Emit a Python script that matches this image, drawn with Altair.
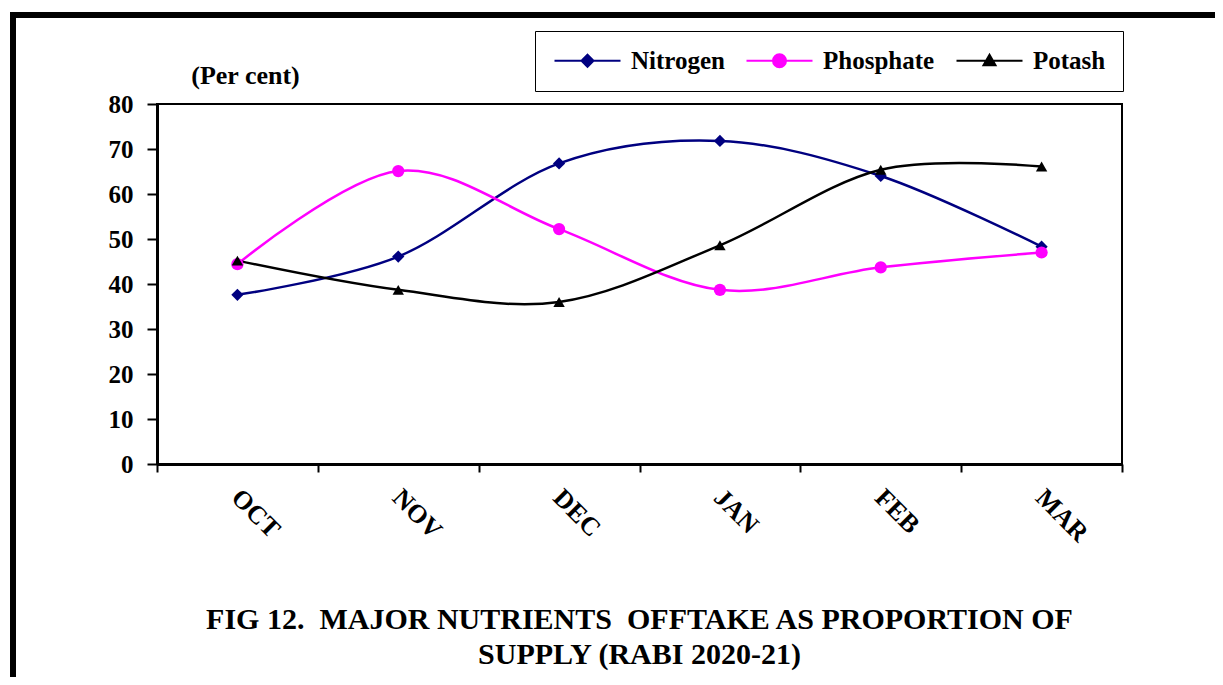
import altair as alt
import pandas as pd

months = ["OCT", "NOV", "DEC", "JAN", "FEB", "MAR"]
nitrogen = [37.6, 46.1, 66.8, 71.8, 64.0, 48.3]
phosphate = [44.4, 65.1, 52.2, 38.7, 43.7, 47.0]
potash = [45.2, 38.7, 36.0, 48.6, 65.4, 66.1]
series = ["Nitrogen", "Phosphate", "Potash"]
colors = ["#000080", "#FF00FF", "#000000"]
shapes = ["diamond", "circle", "triangle-up"]
sizes = [150, 150, 130]
y_ticks = [0, 10, 20, 30, 40, 50, 60, 70, 80]
title_lines = [
    "FIG 12.\u00a0 MAJOR NUTRIENTS\u00a0 OFFTAKE AS PROPORTION OF",
    "SUPPLY (RABI 2020-21)",
]

rows = []
for name, vals in zip(series, [nitrogen, phosphate, potash]):
    for m, v in zip(months, vals):
        rows.append({"Month": m, "Series": name, "Value": v, "Nutrient": name})
df = pd.DataFrame(rows)

FONT = "Liberation Serif"
W, H = 965, 360

# legend symbols: a line with the series marker in its middle (1 unit = 10px)
p_line = "M-1,0H5.6"
legend_paths = [
    p_line + "M2.3,-0.6L2.9,0L2.3,0.6L1.7,0Z",
    p_line + "M2.95,0A0.65,0.65,0,1,1,1.65,0A0.65,0.65,0,1,1,2.95,0Z",
    p_line + "M2.3,-0.6L2.9,0.45L1.7,0.45Z",
]

legend = alt.Legend(
    title=None,
    orient="none",
    legendX=378,
    legendY=-73,
    direction="horizontal",
    symbolType=p_line,
    symbolSize=400,
    symbolStrokeWidth=2,
    labelFont=FONT,
    labelFontSize=25,
    labelFontWeight="bold",
    labelColor="black",
    labelOffset=54,
    columnPadding=17,
    padding=17,
    strokeColor="black",
)

x_enc = alt.X(
    "Month:N",
    sort=months,
    bandPosition=0.5,
    scale=alt.Scale(type="band", paddingInner=0, paddingOuter=0),
    axis=alt.Axis(
        title=None,
        labelAngle=45,
        labelAlign="left",
        labelBaseline="top",
        labelFont=FONT,
        labelFontSize=26,
        labelFontWeight="bold",
        labelColor="black",
        labelPadding=12,
        labelOffset=7,
        tickBand="extent",
        tickSize=8,
        tickWidth=2,
        tickColor="black",
        domainColor="black",
        domainWidth=3,
        grid=False,
    ),
)

y_enc = alt.Y(
    "Value:Q",
    scale=alt.Scale(domain=[0, 80], nice=False),
    axis=alt.Axis(
        values=y_ticks,
        title="(Per cent)",
        titleAngle=0,
        titleX=88,
        titleY=-29,
        titleAlign="center",
        titleBaseline="middle",
        titleFont=FONT,
        titleFontSize=26,
        titleFontWeight="bold",
        titleColor="black",
        labelFont=FONT,
        labelFontSize=25,
        labelFontWeight="bold",
        labelColor="black",
        labelPadding=14,
        tickSize=10,
        tickWidth=2,
        tickColor="black",
        domainColor="black",
        domainWidth=3,
        grid=False,
    ),
)

color_enc = alt.Color("Series:N", scale=alt.Scale(domain=series, range=colors), legend=legend)

lines = alt.Chart(df).mark_line(interpolate="cardinal", strokeWidth=2.5).encode(
    x=x_enc, y=y_enc, color=color_enc, detail="Series:N"
)

point_layers = []
for name, shp, sz in zip(series, shapes, sizes):
    point_layers.append(
        alt.Chart(df)
        .transform_filter(alt.datum.Series == name)
        .mark_point(filled=True, opacity=1, shape=shp, size=sz)
        .encode(x=x_enc, y=y_enc, color=color_enc)
    )

# carries the line+marker legend symbols; its own marks fall outside the plot and are clipped
legend_layer = alt.Chart(df).mark_point(strokeWidth=2, opacity=1, clip=True).encode(
    x=alt.X("Month:N", sort=months, bandPosition=0.5),
    y=alt.value(3000),
    fill=alt.Fill("Nutrient:N", scale=alt.Scale(domain=series, range=colors), legend=legend),
    stroke=alt.Stroke("Nutrient:N", scale=alt.Scale(domain=series, range=colors), legend=legend),
    shape=alt.Shape("Nutrient:N", scale=alt.Scale(domain=series, range=legend_paths), legend=legend),
)

one = alt.Data(values=[{}])
frame_top = alt.Chart(one).mark_rule(color="black", strokeWidth=6, strokeCap="square").encode(
    x=alt.value(-144), x2=alt.value(1060), y=alt.value(-89)
)
frame_left = alt.Chart(one).mark_rule(color="black", strokeWidth=6, strokeCap="square").encode(
    x=alt.value(-144), y=alt.value(-89), y2=alt.value(590)
)

chart = (
    alt.layer(frame_top, frame_left, lines, *point_layers, legend_layer)
    .properties(
        width=W,
        height=H,
        autosize=alt.AutoSizeParams(type="none"),
        padding={"left": 149, "top": 96, "right": 93, "bottom": 213},
        title=alt.TitleParams(
            text=title_lines,
            orient="bottom",
            anchor="middle",
            frame="group",
            offset=-93,
            font=FONT,
            fontSize=30,
            fontWeight="bold",
            color="black",
            lineHeight=35,
        ),
        background="white",
    )
    .configure_view(stroke="black", strokeWidth=2)
)

chart.save("out.html", embed_options={"renderer": "svg", "actions": False})
